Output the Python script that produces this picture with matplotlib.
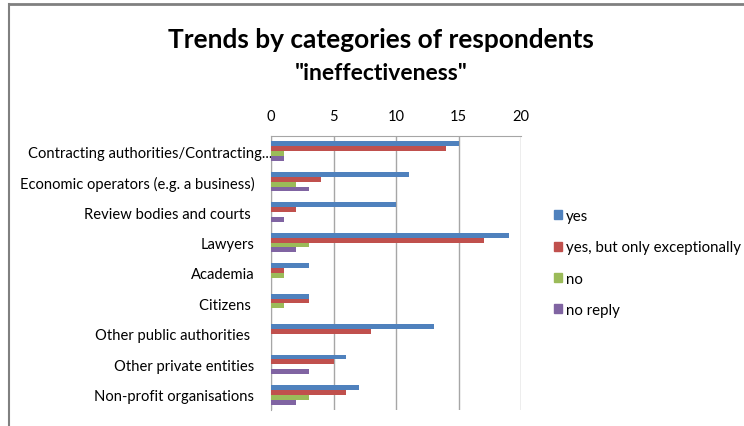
import numpy as np
import matplotlib.pyplot as plt
import matplotlib.transforms as mtransforms
from matplotlib.lines import Line2D

plt.rcParams['font.family'] = ['Lato', 'DejaVu Sans']

categories = [
    "Contracting authorities/Contracting...",
    "Economic operators (e.g. a business)",
    "Review bodies and courts ",
    "Lawyers",
    "Academia",
    "Citizens ",
    "Other public authorities ",
    "Other private entities",
    "Non-profit organisations",
]
series_names = ["yes", "yes, but only exceptionally", "no", "no reply"]
yes = [15, 11, 10, 19, 3, 3, 13, 6, 7]
yes_exceptionally = [14, 4, 2, 17, 1, 3, 8, 5, 6]
no = [1, 2, 0, 3, 1, 1, 0, 0, 3]
no_reply = [1, 3, 1, 2, 0, 0, 0, 3, 2]
x_ticks = [0, 5, 10, 15, 20]

colors = ["#4F81BD", "#C0504D", "#9BBB59", "#8064A2"]


def main():
    fig = plt.figure(figsize=(7.44, 4.27), dpi=100)
    ax = fig.add_axes([271 / 744, 1 - 411 / 427, 250 / 744, 274 / 427])

    y = np.arange(len(categories))
    h = 0.16
    all_series = [yes, yes_exceptionally, no, no_reply]
    for k, (vals, name, col) in enumerate(zip(all_series, series_names, colors)):
        ax.barh(y + (k - 1.5) * h, vals, height=h, color=col, label=name,
                zorder=3)

    ax.set_xlim(0, 20)
    ax.set_ylim(len(categories) - 0.5, -0.5)
    ax.set_xticks(x_ticks)
    ax.set_yticks(y)
    ax.set_yticklabels(categories, fontsize=10.6)
    ax.xaxis.tick_top()
    ax.tick_params(axis="x", length=0, pad=9, labelsize=10.5)
    ax.tick_params(axis="y", length=0, pad=12)
    ax.grid(axis="x", color="#A6A6A6", linewidth=1, zorder=0)

    # the truncated first label sits further right, as in the original
    first = ax.get_yticklabels()[0]
    first.set_transform(first.get_transform() +
                        mtransforms.ScaledTranslation(18 / 100, 0,
                                                      fig.dpi_scale_trans))

    for side in ["right", "bottom"]:
        ax.spines[side].set_visible(False)
    for side in ["top", "left"]:
        ax.spines[side].set_color("#A6A6A6")

    fig.text(381 / 744, 1 - 40 / 427, "Trends by categories of respondents",
             ha="center", va="center", fontsize=18.9, fontweight="bold")
    fig.text(381 / 744, 1 - 74 / 427, "\"ineffectiveness\"",
             ha="center", va="center", fontsize=16.5, fontweight="bold")

    handles = [plt.Rectangle((0, 0), 1, 1, color=c) for c in colors]
    fig.legend(handles, series_names, loc="center left",
               bbox_to_anchor=(540 / 744, 1 - 264 / 427), frameon=False,
               fontsize=10.8, handlelength=0.55, handleheight=0.55,
               handletextpad=0.3, labelspacing=1.15)

    # outer chart border (top and left visible)
    fig.add_artist(Line2D([9 / 744, 1], [1 - 5 / 427, 1 - 5 / 427],
                          color="#808080", linewidth=2))
    fig.add_artist(Line2D([9 / 744, 9 / 744], [0, 1 - 5 / 427],
                          color="#808080", linewidth=1.5))

    fig.savefig("out.png", dpi=100)
    plt.close(fig)


if __name__ == "__main__":
    main()
